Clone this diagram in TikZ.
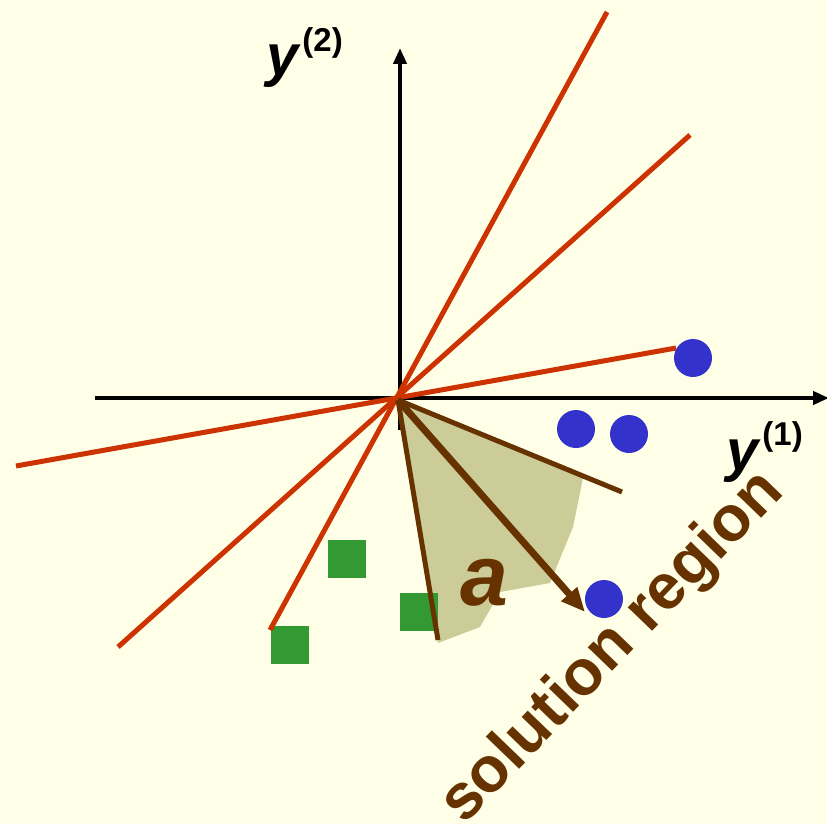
\documentclass[tikz,border=0pt]{standalone}
\usepackage{fontspec}
\setmainfont{Liberation Sans}
\usetikzlibrary{arrows.meta}
\definecolor{bg}{RGB}{255,255,232}
\definecolor{redline}{RGB}{204,51,0}
\definecolor{brownline}{RGB}{102,51,0}
\definecolor{shadecol}{RGB}{204,204,153}
\definecolor{bluedot}{RGB}{51,51,204}
\definecolor{greensq}{RGB}{51,153,51}
\tikzset{
  axisline/.style={draw=black, line width=4pt},
  sepline/.style={draw=redline, line width=5pt},
  boundline/.style={draw=brownline, line width=5pt},
  vecline/.style={draw=brownline, line width=7pt, -{Triangle[length=24pt,width=20pt]}},
  dot/.style={circle, fill=bluedot, minimum size=38pt, inner sep=0pt},
  sq/.style={rectangle, fill=greensq, minimum size=38pt, inner sep=0pt},
  axlabel/.style={font=\fontsize{58}{58}\selectfont\bfseries\itshape, text=black, inner sep=0pt},
}
\begin{document}
\begin{tikzpicture}[x=1pt,y=-1pt]
\fill[bg] (0,0) rectangle (827,824);
\useasboundingbox (0,0) rectangle (827,824);
% coordinates
\coordinate (O) at (398,400);
\coordinate (xl) at (95,398);
\coordinate (xr) at (829,398);
\coordinate (yb) at (400,430);
\coordinate (yt) at (400,48);
\coordinate (r1a) at (607,12);
\coordinate (r1b) at (270,630);
\coordinate (r2a) at (690,135);
\coordinate (r2b) at (118,647);
\coordinate (r3a) at (676,348);
\coordinate (r3b) at (16,466);
\coordinate (b1) at (622,492);
\coordinate (b2) at (438,640);
\coordinate (av) at (585,612);
% shaded solution region
\fill[shadecol] (O) -- (583,478) -- (573,527) -- (550,583) -- (500,592) -- (480,627) -- (438,643) -- cycle;
% green squares
\node[sq] (s1) at (347,559) {};
\node[sq] (s2) at (419,612) {};
\node[sq] (s3) at (290,645) {};
% axes
\draw[axisline, -{Triangle[length=16pt,width=13pt]}] (xl) -- (xr);
\draw[axisline, -{Triangle[length=16pt,width=13pt]}] (yb) -- (yt);
% red lines
\draw[sepline] (r1b) -- (r1a);
\draw[sepline] (r2b) -- (r2a);
\draw[sepline] (r3b) -- (r3a);
% brown lines
\draw[boundline] (O) -- (b1);
\draw[boundline] (O) -- (b2);
\draw[vecline] (O) -- (av);
% blue dots
\node[dot] (c1) at (693,358) {};
\node[dot] (c2) at (576,429) {};
\node[dot] (c3) at (629,434) {};
\node[dot] (c4) at (604,599) {};
% labels
\node[axlabel, anchor=base west] (ly2) at (266,76) {y\kern4pt\raisebox{0.42em}{\fontsize{33}{33}\selectfont\upshape(2)}};
\node[axlabel, anchor=base west] (ly1) at (726,470) {y\kern4pt\raisebox{0.42em}{\fontsize{33}{33}\selectfont\upshape(1)}};
\node[font=\fontsize{86}{86}\selectfont\bfseries\itshape, text=brownline, inner sep=0pt, anchor=base] (la) at (484,605) {a};
\node[font=\fontsize{64}{64}\selectfont\bfseries, text=brownline, inner sep=0pt, anchor=base west, rotate=46] (lsol) at (464,826) {solution region};
\end{tikzpicture}
\end{document}
